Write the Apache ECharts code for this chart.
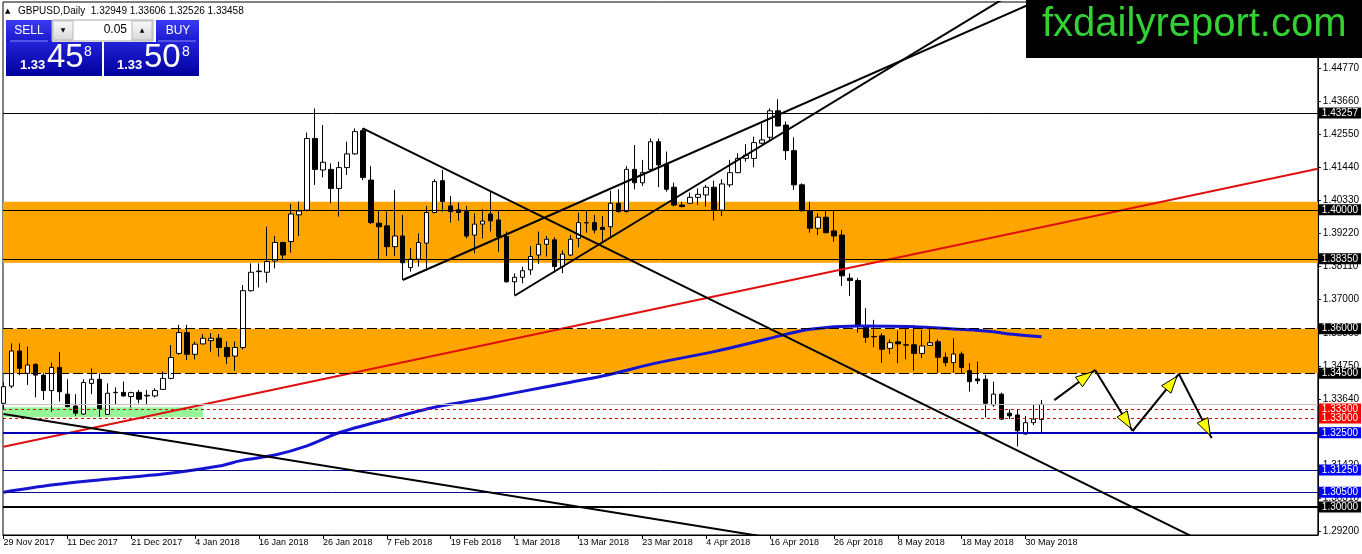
<!DOCTYPE html>
<html><head><meta charset="utf-8">
<script src="https://cdn.jsdelivr.net/npm/echarts@6.0.0/dist/echarts.min.js"></script>
<style>html,body{margin:0;padding:0;background:#fff}#c{width:1362px;height:554px}</style>
</head><body><div id="c"></div>
<script>
// ---- data ----
const dateLabels = ['29 Nov 2017','11 Dec 2017','21 Dec 2017','4 Jan 2018','16 Jan 2018','26 Jan 2018','7 Feb 2018','19 Feb 2018','1 Mar 2018','13 Mar 2018','23 Mar 2018','4 Apr 2018','16 Apr 2018','26 Apr 2018','8 May 2018','18 May 2018','30 May 2018'];
const labelStep = 8;
const yTickValues = [1.4477,1.4366,1.4255,1.4144,1.4033,1.3922,1.3811,1.37,1.3586,1.3475,1.3364,1.3253,1.3142,1.3031,1.292];

const opens = [1.3349,1.3407,1.3525,1.3450,1.3480,1.3444,1.3392,1.3470,1.3380,1.3340,
1.3313,1.3416,1.3430,1.3312,1.3385,1.3386,1.3372,1.3386,1.3374,1.3374,
1.3396,1.3433,1.3517,1.3587,1.3514,1.3549,1.3560,1.3568,1.3537,1.3508,
1.3537,1.3728,1.3792,1.3790,1.3828,1.3890,1.3893,1.3983,1.3999,1.4240,
1.4134,1.4136,1.4072,1.4142,1.4188,1.4266,1.4100,1.3955,1.3946,1.3876,
1.3912,1.3806,1.3834,1.3888,1.3991,1.4098,1.4013,1.4000,1.3994,1.3915,
1.3952,1.3986,1.3966,1.3910,1.3758,1.3773,1.3798,1.3848,1.3884,1.3899,
1.3809,1.3848,1.3904,1.3957,1.3957,1.3941,1.3943,1.4022,1.3994,1.4136,
1.4091,1.4136,1.4229,1.4154,1.4076,1.4016,1.4022,1.4042,1.4050,1.4076,
1.3999,1.4084,1.4125,1.4173,1.4173,1.4224,1.4244,1.4333,1.4285,1.4199,
1.4084,1.3997,1.3938,1.3975,1.3929,1.3915,1.3770,1.3762,1.3607,1.3574,
1.3576,1.3534,1.3556,1.3546,1.3546,1.3517,1.3544,1.3556,1.3504,1.3486,
1.3515,1.3459,1.3431,1.3430,1.3344,1.3380,1.3316,1.3310,1.3246,1.3284,
1.32949];
const closes = [1.3405,1.3525,1.3467,1.3478,1.3444,1.3392,1.3470,1.3388,1.3338,1.3316,
1.3419,1.3430,1.3332,1.3383,1.3386,1.3374,1.3385,1.3363,1.3376,1.3392,
1.3433,1.3503,1.3587,1.3514,1.3548,1.3568,1.3568,1.3537,1.3506,1.3537,
1.3728,1.3790,1.3794,1.3826,1.3890,1.3848,1.3986,1.3996,1.4240,1.4136,
1.4160,1.4072,1.4142,1.4188,1.4263,1.4109,1.3957,1.3943,1.3876,1.3912,
1.3822,1.3834,1.3890,1.3991,1.4095,1.4028,1.3994,1.3991,1.3912,1.3952,
1.3962,1.3963,1.3910,1.3758,1.3773,1.3795,1.3843,1.3884,1.3901,1.3809,
1.3851,1.3901,1.3957,1.3956,1.3932,1.3934,1.4022,1.3994,1.4136,1.4091,
1.4125,1.4229,1.4151,1.4069,1.4016,1.4011,1.4042,1.4052,1.4076,1.3999,
1.4087,1.4125,1.4173,1.4184,1.4226,1.4235,1.4333,1.4282,1.4199,1.4084,
1.3997,1.3938,1.3975,1.3923,1.3912,1.3778,1.3762,1.3609,1.3571,1.3573,
1.3531,1.3553,1.3549,1.3545,1.3517,1.3542,1.3553,1.3504,1.3486,1.3515,
1.3470,1.3422,1.3425,1.3349,1.3380,1.3296,1.3307,1.3257,1.3284,1.3296,
1.33458];
const lows = [1.3330,1.3400,1.3444,1.3411,1.3369,1.3360,1.3321,1.3355,1.3336,1.3307,
1.3310,1.3380,1.3304,1.3310,1.3347,1.3372,1.3335,1.3349,1.3347,1.3369,
1.3394,1.3430,1.3512,1.3495,1.3497,1.3547,1.3523,1.3506,1.3481,1.3459,
1.3530,1.3725,1.3739,1.3755,1.3803,1.3834,1.3856,1.3912,1.3995,1.4084,
1.4109,1.4022,1.3977,1.4117,1.4185,1.4100,1.3952,1.3834,1.3845,1.3845,
1.3764,1.3792,1.3809,1.3803,1.3988,1.3994,1.3957,1.3963,1.3904,1.3854,
1.3904,1.3927,1.3859,1.3755,1.3714,1.3753,1.3781,1.3818,1.3843,1.3789,
1.3787,1.3845,1.3874,1.3923,1.3921,1.3893,1.3910,1.3991,1.3991,1.4069,
1.4080,1.4134,1.4076,1.4061,1.4011,1.4008,1.4020,1.4016,1.4011,1.3964,
1.3979,1.4076,1.4123,1.4162,1.4143,1.4221,1.4235,1.4280,1.4168,1.4067,
1.3994,1.3923,1.3915,1.3921,1.3893,1.3744,1.3710,1.3587,1.3553,1.3538,
1.3486,1.3515,1.3484,1.3497,1.3459,1.3501,1.3542,1.3450,1.3473,1.3452,
1.3450,1.3389,1.3414,1.3302,1.3338,1.3293,1.3296,1.3204,1.3243,1.3276,
1.32526];
const highs = [1.3420,1.3551,1.3551,1.3540,1.3484,1.3450,1.3486,1.3521,1.3430,1.3380,
1.3430,1.3467,1.3450,1.3416,1.3403,1.3422,1.3388,1.3394,1.3394,1.3400,
1.3456,1.3545,1.3613,1.3613,1.3557,1.3582,1.3585,1.3582,1.3557,1.3557,
1.3747,1.3820,1.3820,1.3943,1.3912,1.3893,1.4020,1.4028,1.4260,1.4341,
1.4285,1.4156,1.4162,1.4229,1.4274,1.4274,1.4147,1.3997,1.3994,1.4067,
1.3983,1.3871,1.3921,1.4013,1.4103,1.4134,1.4047,1.4024,1.4013,1.3988,
1.4002,1.4064,1.3999,1.3927,1.3786,1.3809,1.3878,1.3927,1.3912,1.3908,
1.3863,1.3915,1.3990,1.3997,1.3983,1.3979,1.4064,1.4069,1.4147,1.4218,
1.4168,1.4240,1.4240,1.4196,1.4091,1.4027,1.4058,1.4072,1.4084,1.4098,
1.4103,1.4168,1.4190,1.4221,1.4246,1.4291,1.4341,1.4372,1.4297,1.4244,
1.4089,1.4027,1.3988,1.3997,1.3997,1.3932,1.3786,1.3770,1.3669,1.3630,
1.3585,1.3564,1.3594,1.3601,1.3613,1.3596,1.3609,1.3564,1.3520,1.3568,
1.3523,1.3484,1.3489,1.3444,1.3422,1.3385,1.3329,1.3327,1.3307,1.3347,
1.33606];

// moving average read at sampled bars
const maIndex = [0,6,13,20,27,30,34,38,42,48,54,61,68,75,82,89,96,101,107,114,119,124,126,130];
const maValue = [1.3050,1.3074,1.3094,1.3111,1.3138,1.3158,1.3175,1.3206,1.3250,1.3295,1.3336,1.3369,1.3405,1.3441,1.3486,1.3523,1.3568,1.3598,1.3609,1.3607,1.3599,1.3590,1.3582,1.3573];

// horizontal levels
const blackLevels = [1.43257, 1.40000, 1.38350];
const dashedLevels = [1.36000, 1.34500];
const redLevels = [1.33300, 1.33000];
const blueLevels = [1.32500];
const navyLevels = [1.31250, 1.30500];
const thickLevels = [1.30000];
const bidLevel = [1.33458];

// zones
const orangeZones = [[1.3822, 1.4027], [1.3450, 1.3600]];
const greenZone = {xEnd: 25, low: 1.3302, high: 1.3336};

// trend lines: [barIndex, price] endpoints
const redTrend = [[0, 1.3203], [164.6, 1.4138]];
const blackTrends = [
  [[0, 1.3313], [100, 1.2880]],
  [[45, 1.4274], [164.6, 1.2693]],
  [[50, 1.3764], [135, 1.4768]],
  [[64, 1.3711], [130, 1.4788]]
];
const arrowPath = [[131.6, 1.3360], [136.7, 1.3461], [141.4, 1.3256], [147.2, 1.3448], [151.3, 1.3232]];

// ---- build ----
const FONT = '"Liberation Sans", Arial, sans-serif';
const candleData = opens.map((o, i) => [i, o, closes[i], lows[i], highs[i]]);
const maData = maIndex.map((x, k) => [x, maValue[k]]);
const xTickPos = dateLabels.map((_, k) => k * labelStep);
const arrowSegs = arrowPath.slice(1).map((p, k) => [arrowPath[k][0], arrowPath[k][1], p[0], p[1]]);

function lvl(vals, lineStyle, box) {
  return vals.map(v => ({
    yAxis: v,
    lineStyle: lineStyle,
    label: box ? {
      show: true, position: 'end', distance: 1,
      formatter: () => v.toFixed(5),
      color: '#fff', backgroundColor: box, fontSize: 10, fontFamily: FONT,
      padding: [1, 3, 0, 3]
    } : {show: false}
  }));
}
const levelData = [].concat(
  lvl(bidLevel, {color: '#c0c0c0', width: 1, type: 'solid'}, null),
  lvl(blackLevels, {color: '#000', width: 1, type: 'solid'}, '#000'),
  lvl(dashedLevels, {color: '#000', width: 1, type: [10, 4]}, '#000'),
  lvl(redLevels, {color: '#e00000', width: 1, type: [3, 3]}, '#ff0000'),
  lvl(blueLevels, {color: '#0000b4', width: 2, type: 'solid'}, '#0000ff'),
  lvl(navyLevels, {color: '#0a0a8c', width: 1, type: 'solid'}, '#0000ff'),
  lvl(thickLevels, {color: '#000', width: 2, type: 'solid'}, '#000')
);

const areaData = orangeZones.map(z => [
  {yAxis: z[0], itemStyle: {color: '#ffa500'}}, {yAxis: z[1]}
]);
areaData.push([
  {xAxis: 'min', yAxis: greenZone.low, itemStyle: {color: '#98f598'}},
  {xAxis: greenZone.xEnd, yAxis: greenZone.high}
]);

const trendSeries = blackTrends.map(t => ({
  type: 'line', data: t, symbol: 'none', silent: true, z: 5, clip: true,
  lineStyle: {color: '#000', width: 2}
}));

function blueGrad(a, b) {
  return {type: 'linear', x: 0, y: 0, x2: 0, y2: 1, colorStops: [{offset: 0, color: a}, {offset: 1, color: b}]};
}
const grayGrad = blueGrad('#fafafa', '#d8d8d8');

const graphic = [
  {type: 'text', x: 5, y: 11, z: 100, style: {text: '▲', font: '7px "DejaVu Sans"', fill: '#000', verticalAlign: 'middle'}},
  {type: 'text', x: 18, y: 11, z: 100, style: {text: 'GBPUSD,Daily  1.32949 1.33606 1.32526 1.33458', font: '10px ' + FONT, fill: '#000', verticalAlign: 'middle'}},
  // SELL / BUY buttons
  {type: 'rect', z: 100, shape: {x: 6, y: 20, width: 46, height: 22}, style: {fill: blueGrad('#3a3af0', '#1a1acc')}},
  {type: 'line', z: 101, shape: {x1: 10, y1: 41, x2: 48, y2: 41}, style: {stroke: '#8c8cff', lineWidth: 1}},
  {type: 'text', z: 101, x: 29, y: 31, style: {text: 'SELL', font: '12px ' + FONT, fill: '#fff', align: 'center', verticalAlign: 'middle'}},
  {type: 'rect', z: 100, shape: {x: 52, y: 20, width: 101, height: 21}, style: {fill: '#fff', stroke: '#a8a8a8', lineWidth: 1}},
  {type: 'rect', z: 101, shape: {x: 53, y: 21, width: 20, height: 19}, style: {fill: grayGrad, stroke: '#b8b8b8'}},
  {type: 'rect', z: 101, shape: {x: 132, y: 21, width: 20, height: 19}, style: {fill: grayGrad, stroke: '#b8b8b8'}},
  {type: 'text', z: 102, x: 63, y: 30, style: {text: '▼', font: '6px "DejaVu Sans"', fill: '#000', align: 'center', verticalAlign: 'middle'}},
  {type: 'text', z: 102, x: 142, y: 30, style: {text: '▲', font: '6px "DejaVu Sans"', fill: '#000', align: 'center', verticalAlign: 'middle'}},
  {type: 'text', z: 101, x: 127, y: 30, style: {text: '0.05', font: '12px ' + FONT, fill: '#000', align: 'right', verticalAlign: 'middle'}},
  {type: 'rect', z: 100, shape: {x: 156, y: 20, width: 43, height: 22}, style: {fill: blueGrad('#3a3af0', '#1a1acc')}},
  {type: 'line', z: 101, shape: {x1: 158, y1: 41, x2: 196, y2: 41}, style: {stroke: '#8c8cff', lineWidth: 1}},
  {type: 'text', z: 101, x: 178, y: 31, style: {text: 'BUY', font: '12px ' + FONT, fill: '#fff', align: 'center', verticalAlign: 'middle'}},
  // price boxes
  {type: 'rect', z: 100, shape: {x: 6, y: 42, width: 96, height: 34}, style: {fill: blueGrad('#2222d8', '#00009c')}},
  {type: 'rect', z: 100, shape: {x: 104, y: 42, width: 95, height: 34}, style: {fill: blueGrad('#2222d8', '#00009c')}},
  {type: 'text', z: 101, x: 20, y: 65, style: {text: '1.33', font: 'bold 13px ' + FONT, fill: '#fff', verticalAlign: 'middle'}},
  {type: 'text', z: 101, x: 47, y: 58, style: {text: '45', font: '33px ' + FONT, fill: '#fff', verticalAlign: 'middle'}},
  {type: 'text', z: 101, x: 84, y: 52, style: {text: '8', font: '14px ' + FONT, fill: '#fff', verticalAlign: 'middle'}},
  {type: 'text', z: 101, x: 117, y: 65, style: {text: '1.33', font: 'bold 13px ' + FONT, fill: '#fff', verticalAlign: 'middle'}},
  {type: 'text', z: 101, x: 144, y: 58, style: {text: '50', font: '33px ' + FONT, fill: '#fff', verticalAlign: 'middle'}},
  {type: 'text', z: 101, x: 182, y: 52, style: {text: '8', font: '14px ' + FONT, fill: '#fff', verticalAlign: 'middle'}},
  // logo
  {type: 'rect', z: 100, shape: {x: 1026, y: 0, width: 336, height: 58}, style: {fill: '#000'}},
  {type: 'text', z: 101, x: 1042, y: 25, style: {text: 'fxdailyreport.com', font: '40px ' + FONT, fill: '#33d133', verticalAlign: 'middle'}}
];

const option = {
  animation: false,
  backgroundColor: '#fff',
  grid: {left: 3, right: 42, top: 2, bottom: 19, show: true, borderColor: '#000', borderWidth: 1, backgroundColor: '#fff'},
  xAxis: {
    type: 'value', min: -0.06, max: 164.6,
    splitLine: {show: false},
    axisLine: {show: true, onZero: false, lineStyle: {color: '#000'}},
    axisTick: {show: true, customValues: xTickPos, length: 4, lineStyle: {color: '#000'}},
    axisLabel: {customValues: xTickPos, formatter: v => dateLabels[Math.round(v / labelStep)] || '',
      align: 'left', margin: 3, fontSize: 9, fontFamily: FONT, color: '#000'}
  },
  yAxis: {
    type: 'value', position: 'right', min: 1.29062, max: 1.46990, scale: true,
    splitLine: {show: false}, minorTick: {show: false}, minorSplitLine: {show: false},
    axisLine: {show: true, onZero: false, lineStyle: {color: '#000'}},
    axisTick: {show: true, inside: false, customValues: yTickValues, length: 3, lineStyle: {color: '#000'}},
    axisLabel: {customValues: yTickValues, formatter: v => v.toFixed(5), margin: 5, fontSize: 10, fontFamily: FONT, color: '#000'}
  },
  series: [
    {type: 'line', data: [], z: 1, silent: true,
      markArea: {silent: true, precision: 5, data: areaData}},
    {type: 'line', data: [], z: 2, silent: true,
      markLine: {silent: true, precision: 5, symbol: ['none', 'none'], animation: false, data: levelData}},
    {type: 'candlestick', data: candleData, encode: {x: 0, y: [1, 2, 3, 4]}, z: 3, barWidth: 5, silent: true,
      itemStyle: {color: '#fff', color0: '#000', borderColor: '#000', borderColor0: '#000', borderWidth: 1}},
    {type: 'line', data: maData, symbol: 'none', z: 4, silent: true, smooth: 0.3,
      lineStyle: {color: '#1414d2', width: 3}},
    {type: 'line', data: redTrend, symbol: 'none', z: 4, silent: true,
      lineStyle: {color: '#e01010', width: 2}}
  ].concat(trendSeries).concat([
    {type: 'custom', z: 6, silent: true, data: arrowSegs, encode: {x: [0, 2], y: [1, 3]},
      renderItem: (params, api) => {
        const a = api.coord([api.value(0), api.value(1)]);
        const b = api.coord([api.value(2), api.value(3)]);
        const dx = b[0] - a[0], dy = b[1] - a[1], L = Math.hypot(dx, dy);
        const ux = dx / L, uy = dy / L, px = -uy, py = ux;
        const tip = [b[0] - ux * 3, b[1] - uy * 3];
        const base = [tip[0] - ux * 17, tip[1] - uy * 17];
        return {type: 'group', children: [
          {type: 'line', shape: {x1: a[0], y1: a[1], x2: b[0], y2: b[1]}, style: {stroke: '#000', lineWidth: 2}},
          {type: 'polygon', shape: {points: [tip, [base[0] + px * 6, base[1] + py * 6], [base[0] - px * 6, base[1] - py * 6]]},
            style: {fill: '#ffff00', stroke: '#000', lineWidth: 1}}
        ]};
      }}
  ]),
  graphic: graphic
};
const chart = echarts.init(document.getElementById('c'));
chart.setOption(option);
</script>
</body></html>
